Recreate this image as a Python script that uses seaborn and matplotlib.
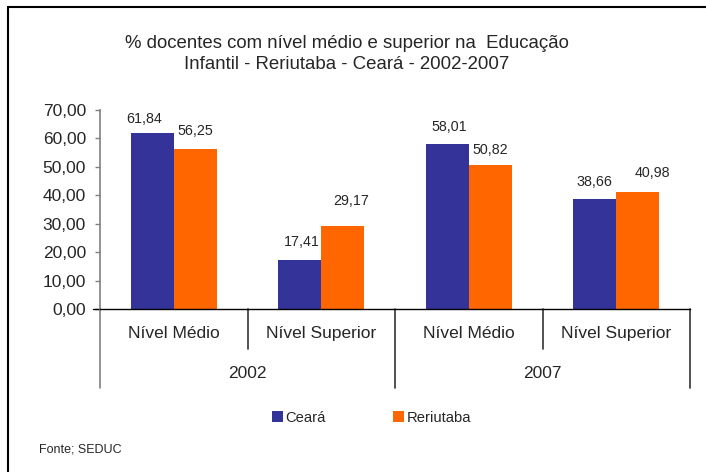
import numpy as np
import pandas as pd
import matplotlib
matplotlib.use('Agg')
import matplotlib.pyplot as plt
import seaborn as sns
from matplotlib.lines import Line2D
from matplotlib.transforms import blended_transform_factory, offset_copy

# dados
anos = ['2002', '2002', '2007', '2007']
niveis = ['Nível Médio', 'Nível Superior', 'Nível Médio', 'Nível Superior']
ceara = [61.84, 17.41, 58.01, 38.66]
reriutaba = [56.25, 29.17, 50.82, 40.98]
series = ['Ceará', 'Reriutaba']
cores = ['#333399', '#FF6600']
yticks = [0, 10, 20, 30, 40, 50, 60, 70]

categorias = [a + ' ' + n for a, n in zip(anos, niveis)]
df = pd.DataFrame({
    'categoria': categorias * 2,
    'valor': ceara + reriutaba,
    'regiao': [series[0]] * 4 + [series[1]] * 4,
})

# deslocamento dos rótulos (px) em relação ao topo da barra
desloc = [[(-8, 14), (2, 18), (2, 17), (0, 17)],
          [(0, 18), (8, 25), (0, 15), (15, 19)]]

sns.set_style('white')
plt.rcParams['font.family'] = ['Liberation Sans', 'DejaVu Sans']

W, H = 706, 472
fig = plt.figure(figsize=(W / 100, H / 100), dpi=100)
ax = fig.add_axes([100 / W, 163 / H, 590 / W, 199 / H])

sns.barplot(data=df, x='categoria', y='valor', hue='regiao', order=categorias,
            hue_order=series, palette=cores, width=0.583, saturation=1,
            edgecolor='none', linewidth=0, ax=ax)

ax.set_xlim(-0.5, 3.5)
ax.set_ylim(0, 70)
ax.set_yticks(yticks)
ax.set_yticklabels([f'{v:.2f}'.replace('.', ',') for v in yticks], fontsize=12.5)
ax.tick_params(axis='y', left=True, length=3.6, width=1, color='#808080', pad=6.5)
ax.set_xticks([])
ax.set_xlabel('')
ax.set_ylabel('')
for s in ['top', 'right']:
    ax.spines[s].set_visible(False)
ax.spines['left'].set_color('#808080')
ax.spines['left'].set_linewidth(1.2)
ax.spines['bottom'].set_color('black')
ax.spines['bottom'].set_linewidth(1)

# rótulos de dados
for i, cont in enumerate(ax.containers):
    for j, bar in enumerate(cont):
        v = bar.get_height()
        dx, dy = desloc[i][j]
        tr = offset_copy(ax.transData, fig=fig, x=dx * 0.72, y=dy * 0.72, units='points')
        ax.text(bar.get_x() + bar.get_width() / 2, v, f'{v:.2f}'.replace('.', ','),
                transform=tr, ha='center', va='center', fontsize=10.3)

# eixo de categorias em dois níveis
tb = blended_transform_factory(ax.transData, ax.transAxes)
ax.plot([-0.55, -0.5], [0, 0], transform=tb, color='black', lw=1, clip_on=False)
for x, y0, c in [(-0.5, -0.397, '#808080'), (0.5, -0.201, '#333333'),
                 (1.5, -0.397, '#333333'), (2.5, -0.201, '#333333'),
                 (3.5, -0.397, '#333333')]:
    ax.plot([x, x], [0, y0], transform=tb, color=c, lw=1.2, clip_on=False)
for k, n in enumerate(niveis):
    ax.text(k, -0.121, n, transform=tb, ha='center', va='center', fontsize=12.5)
for k in [0, 2]:
    ax.text(k + 0.5, -0.322, anos[k], transform=tb, ha='center', va='center', fontsize=12.5)

# título
fig.text(347 / W, 1 - 54 / H,
         '% docentes com nível médio e superior na  Educação\nInfantil - Reriutaba - Ceará - 2002-2007',
         ha='center', va='center', fontsize=13.4, linespacing=1.3)

# legenda
sns.move_legend(ax, loc='center left', bbox_to_anchor=(272 / W, 1 - 418 / H),
                bbox_transform=fig.transFigure, ncol=2, frameon=False, title=None,
                fontsize=10.6, handlelength=0.75, handleheight=0.75, handletextpad=0.15,
                columnspacing=4.6, borderpad=0, borderaxespad=0)

fig.text(39 / W, 1 - 449 / H, 'Fonte; SEDUC', ha='left', va='center', fontsize=9)

# moldura
fig.add_artist(Line2D([8 / W, 1], [1 - 7 / H, 1 - 7 / H], transform=fig.transFigure,
                      color='black', lw=1.5))
fig.add_artist(Line2D([8 / W, 8 / W], [0, 1 - 7 / H], transform=fig.transFigure,
                      color='black', lw=1.5))

fig.savefig('out.png', dpi=100, facecolor='white')
